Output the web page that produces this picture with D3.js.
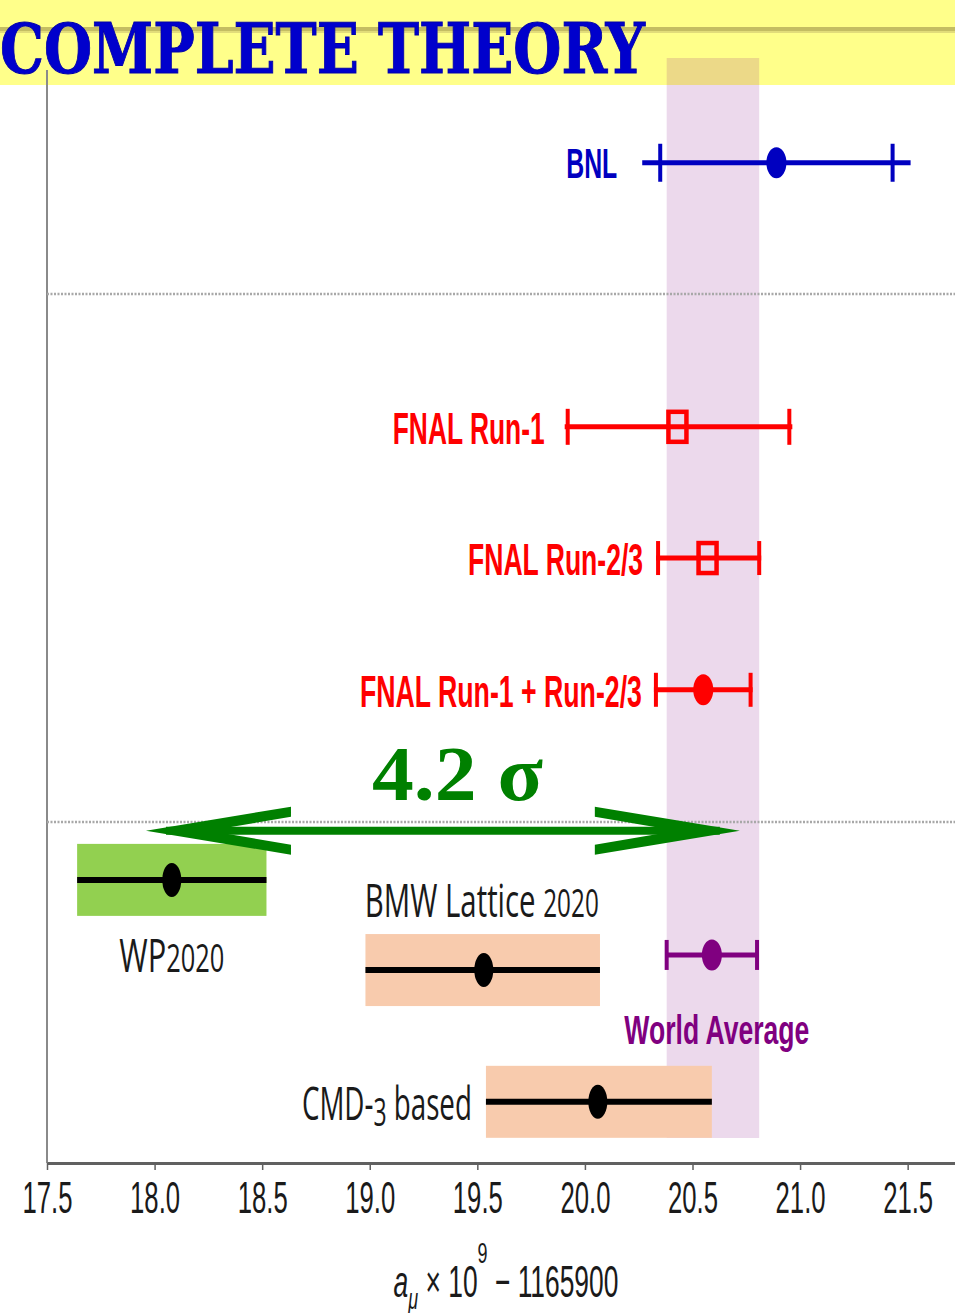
<!DOCTYPE html>
<html><head><meta charset="utf-8">
<script src="https://cdn.jsdelivr.net/npm/d3@7/dist/d3.min.js"></script>
<style>html,body{margin:0;padding:0;background:#fff;}svg{display:block;}</style>
</head><body>
<script>
// ---- data ----
const titleText = "COMPLETE THEORY";
const expNames   = ["BNL", "FNAL Run-1", "FNAL Run-2/3", "FNAL Run-1 + Run-2/3", "World Average"];
const expCentral = [20.89, 20.43, 20.57, 20.55, 20.59];
const expLow     = [20.35, 19.92, 20.34, 20.33, 20.38];
const expHigh    = [21.43, 20.95, 20.81, 20.77, 20.80];
const expRow     = [1.94, 6.83, 9.26, 11.70, 16.61];
const thNames    = ["WP", "BMW Lattice ", "CMD-"];
const thSuffix   = ["2020", "2020", "3"];
const thTail     = ["", "", " based"];
const thCentral  = [18.08, 19.53, 20.06];
const thLow      = [17.64, 18.98, 19.54];
const thHigh     = [18.52, 20.07, 20.59];
const thRow      = [15.22, 16.89, 19.33];
const bandRange  = [20.38, 20.81];
const bandRows   = [0, 20];
const separatorRows = [4.37, 14.15];
const arrowSpan  = [17.96, 20.72];
const arrowRow   = 14.31;
const sigmaLabel = "4.2 σ";
const xTicks     = [17.5, 18.0, 18.5, 19.0, 19.5, 20.0, 20.5, 21.0, 21.5];

// ---- layout / style ----
const W = 955, H = 1313;
const svg = d3.select("body").append("svg").attr("width", W).attr("height", H);
const x = d3.scaleLinear().domain([17.5, 21.72]).range([47, 955]);
const y = d3.scaleLinear().domain([0, 20]).range([58, 1138]);
const axisY = 1163;

// title band
svg.append("rect").attr("x", 0).attr("y", 0).attr("width", W).attr("height", 85).attr("fill", "#ffff8a");
svg.append("line").attr("x1", 0).attr("x2", W).attr("y1", 29).attr("y2", 29).attr("stroke", "#c4bd62").attr("stroke-width", 4);
svg.append("line").attr("x1", 0).attr("x2", W).attr("y1", 32).attr("y2", 32).attr("stroke", "#e2dc7a").attr("stroke-width", 2);

// left axis line
svg.append("line").attr("x1", 47).attr("x2", 47).attr("y1", 70).attr("y2", axisY).attr("stroke", "#8a8a8a").attr("stroke-width", 2);

// world-average band
svg.append("rect")
  .attr("x", x(bandRange[0])).attr("width", x(bandRange[1]) - x(bandRange[0]))
  .attr("y", y(bandRows[0])).attr("height", y(bandRows[1]) - y(bandRows[0]))
  .attr("fill", "rgb(128,0,128)").attr("fill-opacity", 0.15);

// separators
separatorRows.forEach(r => {
  svg.append("line").attr("x1", 47).attr("x2", W).attr("y1", y(r)).attr("y2", y(r))
    .attr("stroke", "#a8a8a8").attr("stroke-width", 2.5).attr("stroke-dasharray", "2,1.5");
});

// theory boxes
const thFill = ["#92d050", "#f8cbad", "#f8cbad"];
const thLabel = [
  {anchor: "middle", dx: 0, dy: 92, len: 105, ref: "c"},
  {anchor: "middle", dx: -2, dy: -53, len: 234, ref: "c"},
  {anchor: "end", dx: -14, dy: 18, len: 170, ref: "lo"}
];
thNames.forEach((n, i) => {
  const yc = y(thRow[i]);
  svg.append("rect").attr("x", x(thLow[i])).attr("width", x(thHigh[i]) - x(thLow[i]))
    .attr("y", yc - 36).attr("height", 72).attr("fill", thFill[i]);
  svg.append("line").attr("x1", x(thLow[i])).attr("x2", x(thHigh[i])).attr("y1", yc).attr("y2", yc)
    .attr("stroke", "#000").attr("stroke-width", 6);
  svg.append("ellipse").attr("cx", x(thCentral[i])).attr("cy", yc).attr("rx", 9.5).attr("ry", 17).attr("fill", "#000");
  const L = thLabel[i];
  const bx = (L.ref === "c" ? x(thCentral[i]) : x(thLow[i])) + L.dx;
  const t = svg.append("text").attr("x", bx).attr("y", yc + L.dy)
    .attr("text-anchor", L.anchor).attr("font-family", "'Open Sans', sans-serif")
    .attr("font-size", 46).attr("fill", "#1a1a1a")
    .attr("textLength", L.len).attr("lengthAdjust", "spacingAndGlyphs");
  t.append("tspan").text(n);
  const s = t.append("tspan").attr("font-size", 38).text(thSuffix[i]);
  if (i === 2) s.attr("dy", 6);
  if (thTail[i]) t.append("tspan").attr("dy", i === 2 ? -6 : 0).text(thTail[i]);
});

// experiments
const expColor = ["#0000c0", "#ff0000", "#ff0000", "#ff0000", "#800080"];
const expMarker = ["circle", "square", "square", "circle", "circle"];
const expExt = [18, 3, 2, 2, 1];
const capH = [19, 18, 17, 17, 15];
const expLabel = [
  {anchor: "end", dx: -43, dy: 15, len: 51, size: 42, ref: "lo"},
  {anchor: "end", dx: -23, dy: 17, len: 152, size: 44, ref: "lo"},
  {anchor: "end", dx: -15, dy: 17, len: 175, size: 44, ref: "lo"},
  {anchor: "end", dx: -14, dy: 17, len: 282, size: 44, ref: "lo"},
  {anchor: "middle", dx: 5, dy: 89, len: 185, size: 40, ref: "c"}
];
expNames.forEach((n, i) => {
  const yc = y(expRow[i]), c = expColor[i];
  const g = svg.append("g");
  g.append("line").attr("x1", x(expLow[i]) - expExt[i]).attr("x2", x(expHigh[i]) + expExt[i])
    .attr("y1", yc).attr("y2", yc).attr("stroke", c).attr("stroke-width", 5);
  [expLow[i], expHigh[i]].forEach(v => {
    g.append("line").attr("x1", x(v)).attr("x2", x(v)).attr("y1", yc - capH[i]).attr("y2", yc + capH[i])
      .attr("stroke", c).attr("stroke-width", 4);
  });
  if (expMarker[i] === "square") {
    g.append("rect").attr("x", x(expCentral[i]) - 9).attr("y", yc - 15).attr("width", 18).attr("height", 30)
      .attr("fill", "none").attr("stroke", c).attr("stroke-width", 4.5);
  } else {
    g.append("ellipse").attr("cx", x(expCentral[i])).attr("cy", yc).attr("rx", 10).attr("ry", 15.5).attr("fill", c);
  }
  const L = expLabel[i];
  const bx = (L.ref === "c" ? x(expCentral[i]) : x(expLow[i])) + L.dx;
  svg.append("text").attr("x", bx).attr("y", yc + L.dy).attr("text-anchor", L.anchor)
    .attr("font-family", "'Liberation Sans', Arial, sans-serif").attr("font-weight", "bold")
    .attr("font-size", L.size).attr("fill", c)
    .attr("textLength", L.len).attr("lengthAdjust", "spacingAndGlyphs").text(n);
});

// sigma arrow
const ay = y(arrowRow), ax0 = x(arrowSpan[0]), ax1 = x(arrowSpan[1]);
const green = "#008000";
svg.append("line").attr("x1", ax0 + 20).attr("x2", ax1 - 20).attr("y1", ay).attr("y2", ay)
  .attr("stroke", green).attr("stroke-width", 8);
const barbL = 145, barbH = 19, bw = 5, inner = 63;
function head(tip, dir) {
  const p = [
    [tip, ay],
    [tip + dir * barbL, ay - barbH - bw],
    [tip + dir * barbL, ay - barbH + bw],
    [tip + dir * inner, ay],
    [tip + dir * barbL, ay + barbH - bw],
    [tip + dir * barbL, ay + barbH + bw]
  ];
  svg.append("path").attr("d", d3.line()(p) + "Z").attr("fill", green);
}
head(ax0, 1);
head(ax1, -1);
svg.append("text").attr("x", 372).attr("y", 800)
  .attr("font-family", "'Liberation Serif', 'DejaVu Serif', serif").attr("font-weight", "bold")
  .attr("font-size", 78).attr("fill", green)
  .attr("textLength", 171).attr("lengthAdjust", "spacingAndGlyphs").text(sigmaLabel);

// bottom axis
const axis = d3.axisBottom(x).tickValues(xTicks).tickFormat(d3.format(".1f")).tickSize(7).tickSizeOuter(0);
const ag = svg.append("g").attr("transform", `translate(0,${axisY})`).call(axis);
ag.select(".domain").attr("stroke", "#606060").attr("stroke-width", 3);
ag.selectAll(".tick line").attr("stroke", "#606060").attr("stroke-width", 1.5);
ag.selectAll(".tick text").attr("y", 50).attr("dy", 0)
  .attr("font-family", "'Liberation Sans', Arial, sans-serif").attr("font-size", 44).attr("fill", "#1a1a1a")
  .attr("textLength", 50).attr("lengthAdjust", "spacingAndGlyphs");

// axis title
const at = svg.append("g").attr("transform", "translate(506,1297) scale(0.6,1)")
  .append("text").attr("text-anchor", "middle")
  .attr("font-family", "'Liberation Sans', Arial, sans-serif").attr("font-size", 44).attr("fill", "#1a1a1a");
at.append("tspan").attr("font-style", "italic").text("a");
at.append("tspan").attr("font-style", "italic").attr("font-size", 30).attr("dy", 12).text("μ");
at.append("tspan").attr("dy", -12).text(" × 10");
at.append("tspan").attr("font-size", 30).attr("dy", -34).text("9");
at.append("tspan").attr("dy", 34).text(" − 1165900");

// title
svg.append("text").attr("x", 0).attr("y", 73)
  .attr("font-family", "'DejaVu Serif', serif").attr("font-weight", "bold")
  .attr("font-size", 70).attr("fill", "#0000cc").attr("stroke", "#0000aa").attr("stroke-width", 1)
  .attr("textLength", 645).attr("lengthAdjust", "spacingAndGlyphs").text(titleText);
</script>
</body></html>
